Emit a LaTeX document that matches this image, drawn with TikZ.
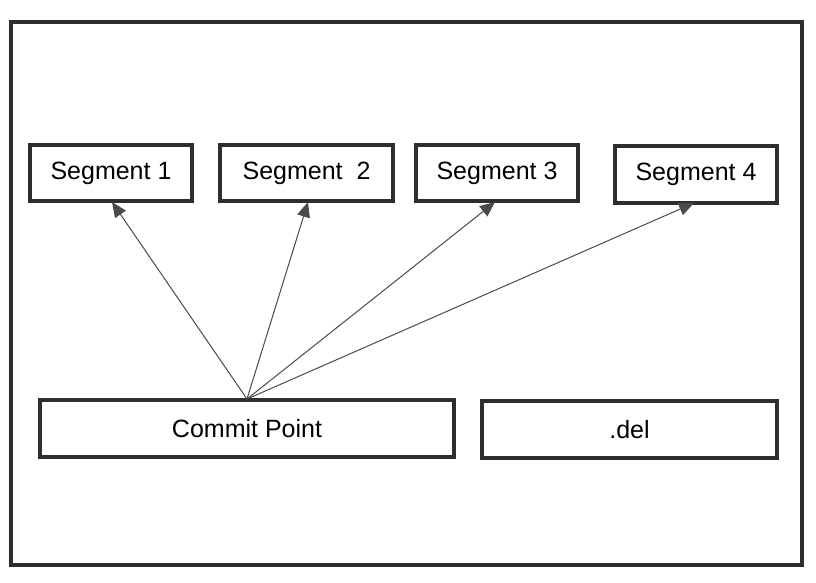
\documentclass[tikz,border=0pt]{standalone}
\usepackage{fontspec}
\setmainfont{Liberation Sans}
\usetikzlibrary{arrows.meta}
\definecolor{frame}{HTML}{2E2E2E}
\definecolor{arrowc}{HTML}{4A4A4A}
\begin{document}
\begin{tikzpicture}[x=1pt,y=-1pt,
  box/.style={draw=frame,line width=3.5pt,fill=white,font=\fontsize{25}{28}\selectfont},
  conn/.style={draw=arrowc,line width=1pt,-{Triangle[length=15pt,width=13pt]}}]
\useasboundingbox (0,0) rectangle (816,582);
\draw[frame,line width=3.5pt] (11,22) rectangle (802,565);
\node[box,minimum width=162pt,minimum height=56pt] (s1) at (111,173) {Segment 1};
\node[box,minimum width=173pt,minimum height=56pt] (s2) at (306.5,173) {Segment\ \ 2};
\node[box,minimum width=162pt,minimum height=56pt] (s3) at (497,173) {Segment 3};
\node[box,minimum width=162pt,minimum height=57pt] (s4) at (696,174.5) {Segment 4};
\node[box,minimum width=414pt,minimum height=57pt] (cp) at (247,428.5) {Commit Point};
\node[box,minimum width=295pt,minimum height=57pt] (del) at (629.5,429.5) {.del};
\coordinate (o) at (247,399);
\coordinate (t1) at (112,202);
\coordinate (t2) at (308,202);
\coordinate (t3) at (495,202);
\coordinate (t4) at (694,203);
\draw[conn] (o) -- (t1);
\draw[conn] (o) -- (t2);
\draw[conn] (o) -- (t3);
\draw[conn] (o) -- (t4);
\end{tikzpicture}
\end{document}
